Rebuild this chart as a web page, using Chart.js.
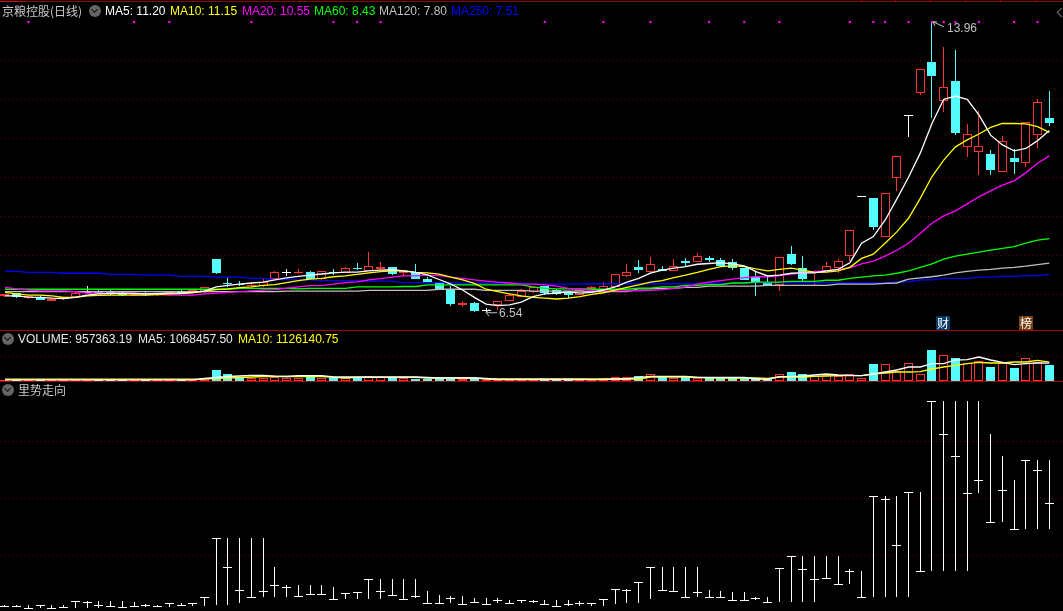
<!DOCTYPE html>
<html>
<head>
<meta charset="utf-8">
<title>京粮控股(日线)</title>
<script src="https://cdn.jsdelivr.net/npm/chart.js@4"></script>
<style>
    html, body { margin: 0; padding: 0; background: #000; overflow: hidden; }
    #wrap { position: relative; width: 1063px; height: 611px; background: #000; overflow: hidden;
            font: 12px "Liberation Sans", Arial, sans-serif; }
    canvas { position: absolute; left: 0; display: block; }
    .txt { position: absolute; white-space: nowrap; line-height: 14px; height: 14px; }
    .cjk { font-family: "Noto Sans CJK SC", sans-serif; color: #c8c8c8; font-size: 12px; }
    .rule { position: absolute; left: 0; width: 1063px; height: 1px; background: #a80000; }
    .notch { position: absolute; top: 0; width: 1px; height: 2px; background: #a80000; }
    .icon { position: absolute; width: 12px; height: 12px; border-radius: 6px; background: #666; }
    .icon:after { content: ''; position: absolute; left: 3px; top: 2px; width: 4px; height: 4px;
                  border-right: 1px solid #111; border-bottom: 1px solid #111; transform: rotate(45deg); }
    .collapse { position: absolute; left: 1058px; top: 9px; width: 6px; height: 6px;
                border-left: 1px solid #777; border-bottom: 1px solid #777; transform: rotate(45deg); }
    .badge { position: absolute; width: 14px; height: 14px; top: 316px; color: #fff; text-align: center;
             font: 12px/14px "Noto Sans CJK SC", sans-serif; }
</style>
</head>
<body>
<div id="wrap">
    <canvas id="kline" width="1063" height="331" style="top:0"></canvas>
    <canvas id="volume" width="1063" height="51" style="top:331px"></canvas>
    <canvas id="trend" width="1063" height="229" style="top:382px"></canvas>

    <div class="rule" style="top:1px;background:#8c0000"></div>
    <div class="rule" style="top:1px;width:23px;background:#e00000"></div>
    <div class="notch" style="left:861px"></div>
    <div class="notch" style="left:895px"></div>
    <div class="notch" style="left:930px"></div>
    <div class="notch" style="left:965px"></div>
    <div class="notch" style="left:1000px"></div>
    <div class="notch" style="left:1035px"></div>
    <div class="collapse"></div>
    <div class="rule" style="top:330px"></div>
    <div class="rule" style="top:381px"></div>

    <div class="txt cjk" style="left:2px;top:4px">京粮控股(日线)</div>
    <div class="icon" style="left:89px;top:5px"></div>
    <div class="txt" style="left:105px;top:4px;color:#fff">MA5: 11.20</div>
    <div class="txt" style="left:170px;top:4px;color:#ffff00">MA10: 11.15</div>
    <div class="txt" style="left:242px;top:4px;color:#ff00ff">MA20: 10.55</div>
    <div class="txt" style="left:314px;top:4px;color:#00ff00">MA60: 8.43</div>
    <div class="txt" style="left:379px;top:4px;color:#c0c0c0">MA120: 7.80</div>
    <div class="txt" style="left:451px;top:4px;color:#0000ff">MA250: 7.51</div>

    <div class="icon" style="left:2px;top:333px"></div>
    <div class="txt" style="left:18px;top:332px;color:#e8e8e8">VOLUME: 957363.19</div>
    <div class="txt" style="left:138px;top:332px;color:#e8e8e8">MA5: 1068457.50</div>
    <div class="txt" style="left:238px;top:332px;color:#ffff00">MA10: 1126140.75</div>

    <div class="icon" style="left:2px;top:384px"></div>
    <div class="txt cjk" style="left:18px;top:383px">里势走向</div>

    <div class="badge" style="left:936px;background:#0a3a66">财</div>
    <div class="badge" style="left:1019px;background:#7a3f10">榜</div>
</div>

<script>
// Daily candles
var opens = [6.96, 7.03, 6.90, 6.94, 6.83, 6.87, 6.93, 7.07, 7.08, 7.07,
    7.03, 6.98, 7.03, 6.98, 7.03, 7.08, 7.06, 7.06, 7.90, 7.30,
    7.27, 7.23, 7.22, 7.39, 7.58, 7.56, 7.57, 7.38, 7.56, 7.54,
    7.68, 7.60, 7.64, 7.69, 7.55, 7.57, 7.39, 7.30, 7.11, 6.73,
    6.77, 6.60, 6.72, 6.84, 6.94, 7.07, 7.21, 7.11, 7.05, 6.98,
    7.14, 7.11, 7.19, 7.48, 7.70, 7.58, 7.64, 7.60, 7.85, 7.84,
    7.93, 7.87, 7.83, 7.67, 7.45, 7.30, 7.24, 8.03, 7.67, 7.55,
    7.60, 7.67, 7.99, 9.51, 9.47, 8.48, 9.97, 11.59, 12.17, 12.96,
    11.96, 12.47, 10.78, 10.66, 10.61, 10.14, 10.49, 10.36, 11.08, 11.52];
var closes = [7.01, 6.94, 6.96, 6.85, 6.88, 6.92, 7.03, 7.07, 7.03, 7.01,
    6.98, 7.03, 6.99, 7.03, 7.08, 7.03, 7.11, 7.18, 7.55, 7.28,
    7.25, 7.25, 7.32, 7.56, 7.58, 7.58, 7.38, 7.59, 7.54, 7.67,
    7.66, 7.73, 7.69, 7.52, 7.60, 7.40, 7.31, 7.13, 6.75, 6.78,
    6.57, 6.60, 6.82, 6.98, 7.08, 7.20, 7.03, 7.00, 6.99, 7.11,
    7.19, 7.21, 7.51, 7.56, 7.62, 7.77, 7.60, 7.72, 7.81, 7.98,
    7.88, 7.73, 7.67, 7.37, 7.31, 7.23, 7.95, 7.78, 7.39, 7.60,
    7.72, 7.85, 8.64, 9.51, 8.73, 9.59, 10.55, 11.59, 12.77, 12.60,
    12.31, 11.13, 11.10, 10.79, 10.19, 10.92, 10.39, 11.43, 11.92, 11.40];
var highs = [7.01, 7.03, 6.96, 6.96, 6.88, 6.92, 7.06, 7.21, 7.11, 7.13,
    7.05, 7.05, 7.08, 7.03, 7.08, 7.13, 7.11, 7.18, 7.90, 7.41,
    7.34, 7.28, 7.39, 7.60, 7.65, 7.64, 7.60, 7.60, 7.65, 7.69,
    7.79, 8.08, 7.83, 7.70, 7.60, 7.78, 7.44, 7.31, 7.21, 6.82,
    6.80, 6.65, 6.82, 7.00, 7.13, 7.21, 7.21, 7.13, 7.08, 7.11,
    7.21, 7.32, 7.51, 7.78, 7.88, 7.95, 7.73, 7.90, 7.92, 8.05,
    7.98, 7.93, 7.90, 7.67, 7.56, 7.45, 7.95, 8.24, 7.98, 7.60,
    7.83, 7.90, 8.64, 9.51, 9.47, 9.59, 10.55, 11.59, 12.77, 13.96,
    13.33, 13.26, 11.37, 11.69, 10.70, 11.06, 10.72, 11.43, 12.00, 12.21];
var lows = [6.93, 6.90, 6.88, 6.85, 6.83, 6.85, 6.93, 7.03, 7.00, 6.98,
    6.96, 6.96, 6.96, 6.96, 6.95, 7.00, 7.06, 7.03, 7.52, 7.19,
    7.21, 7.19, 7.19, 7.39, 7.48, 7.51, 7.37, 7.37, 7.49, 7.54,
    7.62, 7.60, 7.58, 7.50, 7.47, 7.38, 7.31, 7.13, 6.70, 6.68,
    6.55, 6.54, 6.60, 6.84, 6.94, 7.03, 6.98, 6.98, 6.90, 6.98,
    7.11, 7.11, 7.19, 7.45, 7.55, 7.55, 7.60, 7.60, 7.70, 7.84,
    7.83, 7.73, 7.62, 7.37, 6.96, 7.23, 7.08, 7.75, 7.34, 7.24,
    7.54, 7.55, 7.85, 9.51, 8.65, 8.48, 9.65, 11.03, 12.12, 11.53,
    11.68, 11.08, 10.53, 10.07, 10.06, 10.14, 10.09, 10.27, 10.76, 11.32];

// Moving averages
var ma5 = [6.96, 6.96, 6.93, 6.92, 6.90, 6.89, 6.92, 6.98, 7.01, 7.02,
    7.03, 7.02, 7.01, 7.02, 7.03, 7.03, 7.05, 7.08, 7.19, 7.23,
    7.26, 7.29, 7.31, 7.37, 7.42, 7.46, 7.49, 7.52, 7.55, 7.57,
    7.57, 7.60, 7.62, 7.63, 7.60, 7.56, 7.50, 7.38, 7.26, 7.11,
    6.92, 6.75, 6.71, 6.73, 6.80, 6.94, 7.01, 7.03, 7.06, 7.03,
    7.05, 7.11, 7.19, 7.31, 7.41, 7.54, 7.62, 7.67, 7.71, 7.77,
    7.79, 7.81, 7.78, 7.73, 7.58, 7.47, 7.49, 7.54, 7.55, 7.55,
    7.60, 7.64, 7.81, 8.31, 8.48, 8.90, 9.44, 10.00, 10.62, 11.38,
    12.00, 12.08, 12.00, 11.60, 11.08, 10.83, 10.68, 10.74, 10.94, 11.20];
var ma10 = [7.05, 7.01, 6.98, 6.98, 6.96, 6.92, 6.92, 6.96, 6.97, 6.98,
    6.98, 6.98, 6.98, 6.99, 7.01, 7.02, 7.04, 7.08, 7.12, 7.14,
    7.17, 7.19, 7.23, 7.25, 7.30, 7.35, 7.39, 7.41, 7.45, 7.47,
    7.51, 7.55, 7.58, 7.60, 7.60, 7.56, 7.55, 7.52, 7.44, 7.37,
    7.28, 7.13, 7.07, 7.01, 6.96, 6.92, 6.90, 6.88, 6.90, 6.94,
    7.00, 7.04, 7.11, 7.18, 7.24, 7.31, 7.35, 7.43, 7.49, 7.56,
    7.64, 7.71, 7.73, 7.71, 7.65, 7.60, 7.64, 7.67, 7.62, 7.56,
    7.57, 7.60, 7.69, 7.92, 8.03, 8.31, 8.60, 8.95, 9.46, 10.02,
    10.44, 10.78, 10.96, 11.11, 11.28, 11.38, 11.38, 11.37, 11.30, 11.15];
var ma20 = [7.18, 7.14, 7.11, 7.09, 7.09, 7.09, 7.07, 7.03, 7.03, 7.03,
    7.03, 7.03, 7.01, 6.99, 6.98, 6.98, 6.98, 7.01, 7.03, 7.05,
    7.07, 7.09, 7.11, 7.12, 7.16, 7.19, 7.22, 7.22, 7.26, 7.30,
    7.32, 7.37, 7.40, 7.44, 7.47, 7.47, 7.49, 7.48, 7.44, 7.41,
    7.37, 7.34, 7.31, 7.29, 7.26, 7.26, 7.24, 7.21, 7.15, 7.13,
    7.10, 7.09, 7.09, 7.09, 7.09, 7.10, 7.12, 7.15, 7.19, 7.26,
    7.31, 7.35, 7.39, 7.43, 7.45, 7.45, 7.48, 7.52, 7.55, 7.59,
    7.60, 7.64, 7.68, 7.78, 7.85, 7.98, 8.13, 8.31, 8.56, 8.82,
    9.01, 9.14, 9.32, 9.50, 9.65, 9.80, 9.91, 10.12, 10.36, 10.55];
var ma60 = [7.13, 7.13, 7.13, 7.13, 7.13, 7.13, 7.13, 7.13, 7.13, 7.13,
    7.13, 7.13, 7.13, 7.13, 7.13, 7.13, 7.13, 7.13, 7.13, 7.13,
    7.15, 7.15, 7.15, 7.15, 7.15, 7.14, 7.15, 7.15, 7.15, 7.15,
    7.19, 7.19, 7.19, 7.19, 7.20, 7.20, 7.24, 7.24, 7.24, 7.24,
    7.24, 7.24, 7.24, 7.24, 7.24, 7.19, 7.15, 7.14, 7.14, 7.14,
    7.13, 7.13, 7.13, 7.13, 7.16, 7.16, 7.19, 7.19, 7.23, 7.23,
    7.25, 7.25, 7.29, 7.29, 7.31, 7.31, 7.31, 7.33, 7.33, 7.33,
    7.36, 7.36, 7.41, 7.44, 7.47, 7.49, 7.54, 7.60, 7.69, 7.78,
    7.90, 7.98, 8.03, 8.08, 8.13, 8.18, 8.22, 8.31, 8.39, 8.43];
var ma120 = [7.07, 7.07, 7.07, 7.07, 7.07, 7.07, 7.07, 7.07, 7.07, 7.07,
    7.07, 7.07, 7.07, 7.07, 7.07, 7.07, 7.07, 7.07, 7.07, 7.07,
    7.07, 7.07, 7.07, 7.07, 7.08, 7.08, 7.08, 7.08, 7.08, 7.08,
    7.08, 7.10, 7.10, 7.10, 7.10, 7.10, 7.10, 7.13, 7.13, 7.13,
    7.13, 7.10, 7.10, 7.10, 7.10, 7.08, 7.08, 7.08, 7.08, 7.08,
    7.07, 7.07, 7.07, 7.07, 7.14, 7.14, 7.15, 7.15, 7.18, 7.18,
    7.21, 7.21, 7.21, 7.21, 7.21, 7.23, 7.23, 7.23, 7.23, 7.23,
    7.23, 7.26, 7.26, 7.26, 7.26, 7.28, 7.29, 7.39, 7.42, 7.45,
    7.49, 7.55, 7.59, 7.62, 7.64, 7.67, 7.69, 7.72, 7.76, 7.80];
var ma250 = [7.59, 7.59, 7.56, 7.56, 7.56, 7.54, 7.54, 7.54, 7.54, 7.51,
    7.51, 7.51, 7.49, 7.49, 7.49, 7.46, 7.46, 7.46, 7.44, 7.44,
    7.44, 7.41, 7.41, 7.38, 7.38, 7.37, 7.37, 7.35, 7.35, 7.35,
    7.35, 7.34, 7.34, 7.34, 7.30, 7.30, 7.30, 7.30, 7.30, 7.28,
    7.28, 7.28, 7.28, 7.28, 7.28, 7.26, 7.26, 7.26, 7.26, 7.26,
    7.27, 7.27, 7.27, 7.27, 7.27, 7.27, 7.27, 7.27, 7.27, 7.27,
    7.28, 7.28, 7.28, 7.28, 7.30, 7.30, 7.30, 7.30, 7.30, 7.30,
    7.30, 7.30, 7.29, 7.29, 7.29, 7.29, 7.32, 7.32, 7.37, 7.37,
    7.41, 7.41, 7.41, 7.44, 7.44, 7.46, 7.46, 7.48, 7.48, 7.51];

// Sessions with a small magenta mark along the top of the price panel
var markedDays = [2, 11, 14, 21, 28, 30, 32, 46, 51, 55, 60, 63, 66, 72, 74, 75, 77, 79, 80, 81, 83, 86, 88];
var markLevel = 13.98;

// Volume panel
var volumes = [90000, 60000, 60000, 60000, 60000, 60000, 60000, 60000, 60000, 60000,
    48000, 48000, 60000, 48000, 48000, 60000, 60000, 198000, 678000, 438000,
    240000, 198000, 198000, 240000, 198000, 180000, 222000, 198000, 162000, 162000,
    258000, 282000, 240000, 222000, 162000, 138000, 138000, 138000, 120000, 120000,
    120000, 78000, 78000, 90000, 90000, 90000, 90000, 78000, 78000, 78000,
    78000, 180000, 240000, 240000, 318000, 420000, 282000, 180000, 240000, 180000,
    162000, 162000, 162000, 198000, 162000, 120000, 420000, 558000, 438000, 282000,
    360000, 318000, 420000, 180000, 1038000, 1020000, 582000, 1080000, 420000, 1878000,
    1560000, 1398000, 1080000, 1182000, 858000, 1080000, 798000, 1380000, 1122000, 957363];
var volMa5 = [72000, 72000, 72000, 72000, 72000, 72000, 72000, 72000, 72000, 72000,
    72000, 72000, 72000, 72000, 72000, 72000, 72000, 150000, 210000, 270000,
    300000, 342000, 342000, 288000, 270000, 318000, 318000, 318000, 240000, 240000,
    240000, 240000, 240000, 240000, 240000, 240000, 210000, 180000, 180000, 180000,
    180000, 150000, 90000, 90000, 90000, 90000, 90000, 90000, 90000, 90000,
    78000, 78000, 120000, 120000, 222000, 282000, 282000, 282000, 282000, 222000,
    222000, 222000, 222000, 222000, 120000, 102000, 258000, 258000, 300000, 360000,
    420000, 360000, 342000, 318000, 420000, 540000, 660000, 840000, 840000, 1038000,
    1038000, 1260000, 1278000, 1440000, 1260000, 1122000, 978000, 1038000, 1080000, 1068457];
var volMa10 = [108000, 108000, 108000, 108000, 108000, 108000, 108000, 108000, 108000, 108000,
    108000, 108000, 108000, 108000, 108000, 108000, 108000, 108000, 162000, 180000,
    210000, 240000, 270000, 270000, 270000, 270000, 270000, 270000, 222000, 180000,
    222000, 222000, 222000, 222000, 222000, 222000, 180000, 180000, 180000, 180000,
    180000, 120000, 120000, 120000, 120000, 120000, 120000, 120000, 120000, 120000,
    120000, 120000, 120000, 120000, 120000, 240000, 240000, 240000, 240000, 222000,
    180000, 180000, 180000, 180000, 180000, 162000, 240000, 240000, 240000, 282000,
    300000, 318000, 318000, 318000, 420000, 480000, 540000, 540000, 558000, 720000,
    840000, 942000, 1038000, 1122000, 1080000, 1080000, 1140000, 1140000, 1242000, 1126141];

// 里势走向 panel: high, low and the level of the cross bar
var trendHigh = [1.28, 1.34, 1.28, 1.22, 1.28, 1.28, 1.93, 1.93, 1.93, 1.93,
    1.93, 1.87, 1.46, 1.28, 1.57, 1.57, 1.57, 2.63, 12.98, 12.98,
    12.98, 12.98, 12.98, 7.89, 4.73, 4.73, 4.73, 4.73, 4.38, 3.33,
    3.50, 5.79, 5.79, 5.79, 5.79, 5.79, 3.68, 2.98, 2.80, 2.80,
    2.45, 2.45, 2.45, 2.10, 2.10, 2.10, 2.10, 2.10, 2.10, 1.93,
    1.57, 2.28, 4.17, 4.17, 5.26, 7.89, 7.89, 7.89, 7.89, 7.89,
    3.85, 3.74, 3.56, 3.56, 2.74, 2.68, 7.71, 9.82, 9.82, 9.82,
    9.82, 9.82, 7.54, 7.19, 20.35, 20.35, 20.35, 21.05, 21.05, 37.01,
    37.01, 37.01, 37.01, 37.01, 31.22, 27.36, 23.15, 26.66, 26.66, 26.66];
var trendLow = [0.93, 0.93, 0.70, 0.76, 0.70, 0.87, 0.76, 0.76, 0.76, 0.93,
    0.87, 1.05, 0.93, 0.93, 0.93, 1.22, 1.11, 1.11, 1.34, 1.34,
    1.69, 2.63, 2.69, 2.69, 2.69, 2.80, 2.98, 3.15, 2.28, 2.28,
    2.33, 2.39, 2.33, 2.98, 2.28, 2.45, 1.57, 1.57, 1.69, 1.40,
    1.57, 1.40, 1.57, 1.57, 1.57, 1.57, 1.40, 1.05, 1.05, 1.05,
    1.05, 1.05, 1.52, 1.57, 1.63, 2.33, 3.85, 3.68, 2.63, 2.69,
    2.63, 2.63, 2.10, 2.10, 2.10, 1.75, 1.87, 1.87, 1.87, 1.87,
    5.96, 4.91, 5.02, 2.63, 2.74, 2.74, 2.74, 2.74, 7.19, 7.30,
    7.30, 7.30, 7.30, 20.99, 15.78, 15.90, 14.56, 14.67, 14.67, 14.67];
var trendMid = [1.11, 1.11, 0.70, 1.22, 0.70, 0.87, 1.93, 1.81, 1.34, 1.05,
    0.87, 1.05, 1.22, 1.05, 1.57, 1.22, 1.57, 2.63, 12.98, 7.89,
    3.85, 2.63, 3.68, 4.73, 4.38, 2.80, 3.15, 3.15, 2.28, 3.33,
    3.50, 5.79, 3.68, 2.98, 2.28, 2.80, 1.57, 1.57, 2.51, 1.40,
    1.75, 1.40, 2.10, 1.57, 2.10, 1.93, 1.40, 1.05, 1.40, 1.57,
    1.57, 2.28, 4.17, 3.85, 5.26, 7.89, 3.85, 3.68, 2.63, 3.50,
    2.63, 2.63, 2.10, 2.10, 2.45, 1.75, 7.71, 9.82, 7.54, 5.78,
    5.96, 4.91, 7.19, 2.63, 20.35, 19.82, 11.75, 21.05, 7.19, 37.01,
    31.22, 27.36, 20.87, 23.15, 15.78, 21.40, 14.56, 26.66, 24.91, 19.12];

// Grid levels
var priceTicks = [7, 8, 9, 10, 11, 12, 13];
var volumeTicks = [1500000];
var trendTicks = [10, 20, 30];

var RED = '#ff3232';
var CYAN = '#54fcfc';
var GRID = '#700000';

// Candle colour from open/close
function candleColor(i) {
    if (closes[i] > opens[i]) return RED;
    if (closes[i] < opens[i]) return CYAN;
    return '#ffffff';
}

// x runs over the session index so every panel shares the same columns
var xAxis = { type: 'linear', display: false, offset: false, min: -0.426, max: 90.165 };

function yAxis(min, max, ticks) {
    return {
        min: min,
        max: max,
        ticks: { display: false },
        afterBuildTicks: function (scale) {
            scale.ticks = ticks.map(function (v) { return { value: v }; });
        },
        afterFit: function (scale) { scale.width = 0; },
        grid: { color: GRID, drawTicks: false },
        border: { display: false, dash: [1, 3] }
    };
}

function baseOptions(yScale) {
    return {
        responsive: false,
        animation: false,
        events: [],
        layout: { padding: 0, autoPadding: false },
        plugins: { legend: { display: false }, tooltip: { enabled: false } },
        scales: { x: xAxis, y: yScale }
    };
}

function points(values) {
    return values.map(function (v, i) { return { x: i, y: v }; });
}

function lineSet(values, color, order) {
    return { type: 'line', data: points(values), borderColor: color, borderWidth: 1.3,
        pointRadius: 0, tension: 0, order: order };
}

function barSet(data, thickness, background, border, order) {
    return { type: 'bar', data: data, barThickness: thickness, grouped: false, inflateAmount: 0,
        backgroundColor: background, borderColor: border, borderWidth: border ? 1 : 0,
        borderSkipped: false, order: order };
}

// Put bars on whole pixels, so thin bodies and crosses stay sharp
var snapBars = {
    id: 'snapBars',
    beforeDatasetsDraw: function (chart) {
        chart.getSortedVisibleDatasetMetas().forEach(function (meta) {
            if (meta.type !== 'bar') return;
            meta.data.forEach(function (bar) {
                bar.x = Math.floor(bar.x) + 0.5;
                bar.y = Math.round(bar.y);
                bar.base = Math.round(bar.base);
                if (bar.y === bar.base) bar.base = bar.y + 1;
            });
        });
    }
};

// High and low call-outs on the price panel
var extremeLabels = {
    id: 'extremeLabels',
    afterDatasetsDraw: function (chart) {
        var ctx = chart.ctx, x = chart.scales.x, y = chart.scales.y;
        var hiX = x.getPixelForValue(highs.indexOf(Math.max.apply(null, highs)));
        var hiY = y.getPixelForValue(Math.max.apply(null, highs));
        var loX = x.getPixelForValue(lows.indexOf(Math.min.apply(null, lows)));
        var loY = y.getPixelForValue(Math.min.apply(null, lows));
        ctx.save();
        ctx.strokeStyle = '#c0c0c0';
        ctx.fillStyle = '#c0c0c0';
        ctx.lineWidth = 1;
        ctx.beginPath();
        ctx.moveTo(hiX + 1, hiY - 1); ctx.lineTo(hiX + 12, hiY + 4);
        ctx.moveTo(hiX + 1, hiY - 1); ctx.lineTo(hiX + 5, hiY - 1);
        ctx.moveTo(hiX + 1, hiY - 1); ctx.lineTo(hiX + 3, hiY + 3);
        ctx.moveTo(loX, loY + 0.5); ctx.lineTo(loX + 11, loY + 0.5);
        ctx.moveTo(loX, loY + 0.5); ctx.lineTo(loX + 3, loY + 4);
        ctx.moveTo(loX, loY + 0.5); ctx.lineTo(loX + 3, loY - 3);
        ctx.stroke();
        ctx.font = '12px "Liberation Sans", Arial, sans-serif';
        ctx.textBaseline = 'middle';
        ctx.fillText('13.96', hiX + 15, hiY + 6);
        ctx.fillText('6.54', loX + 13, loY + 1);
        ctx.restore();
    }
};

// Price panel
var wickData = highs.map(function (h, i) { return { x: i, y: [lows[i], h] }; });
var bodyData = opens.map(function (o, i) { return { x: i, y: [o, closes[i]] }; });
var allDays = opens.map(function (o, i) { return i; });

new Chart(document.getElementById('kline'), {
    data: {
        datasets: [
            barSet(wickData, 1, allDays.map(candleColor), null, 20),
            barSet(bodyData, 9,
                allDays.map(function (i) { return closes[i] > opens[i] ? '#000000' : candleColor(i); }),
                allDays.map(candleColor), 19),
            lineSet(ma250, '#0000ff', 6),
            lineSet(ma120, '#c0c0c0', 5),
            lineSet(ma60, '#00ff00', 4),
            lineSet(ma20, '#ff00ff', 3),
            lineSet(ma10, '#ffff00', 2),
            lineSet(ma5, '#ffffff', 1),
            { type: 'line', showLine: false, order: 0, pointStyle: 'rect', pointRadius: 1.5, pointBorderWidth: 0,
              pointBackgroundColor: '#ff00ff',
              data: markedDays.map(function (d) { return { x: d, y: markLevel }; }) }
        ]
    },
    options: baseOptions(yAxis(6.059, 14.546, priceTicks)),
    plugins: [snapBars, extremeLabels]
});

// Volume panel
new Chart(document.getElementById('volume'), {
    data: {
        datasets: [
            barSet(points(volumes), 9,
                allDays.map(function (i) { return closes[i] < opens[i] ? CYAN : '#000000'; }),
                allDays.map(function (i) { return closes[i] < opens[i] ? CYAN : RED; }), 10),
            lineSet(volMa10, '#ffff00', 2),
            lineSet(volMa5, '#ffffff', 1)
        ]
    },
    options: baseOptions(yAxis(-60000, 3000000, volumeTicks)),
    plugins: [snapBars]
});

// 里势走向 panel
new Chart(document.getElementById('trend'), {
    data: {
        datasets: [
            barSet(trendHigh.map(function (h, i) { return { x: i, y: [trendLow[i], h] }; }), 1, '#ffffff', null, 2),
            barSet(trendMid.map(function (m, i) { return { x: i, y: [m, m] }; }), 9, '#ffffff', null, 1)
        ]
    },
    options: baseOptions(yAxis(0.228, 40.4, trendTicks)),
    plugins: [snapBars]
});
</script>
</body>
</html>
